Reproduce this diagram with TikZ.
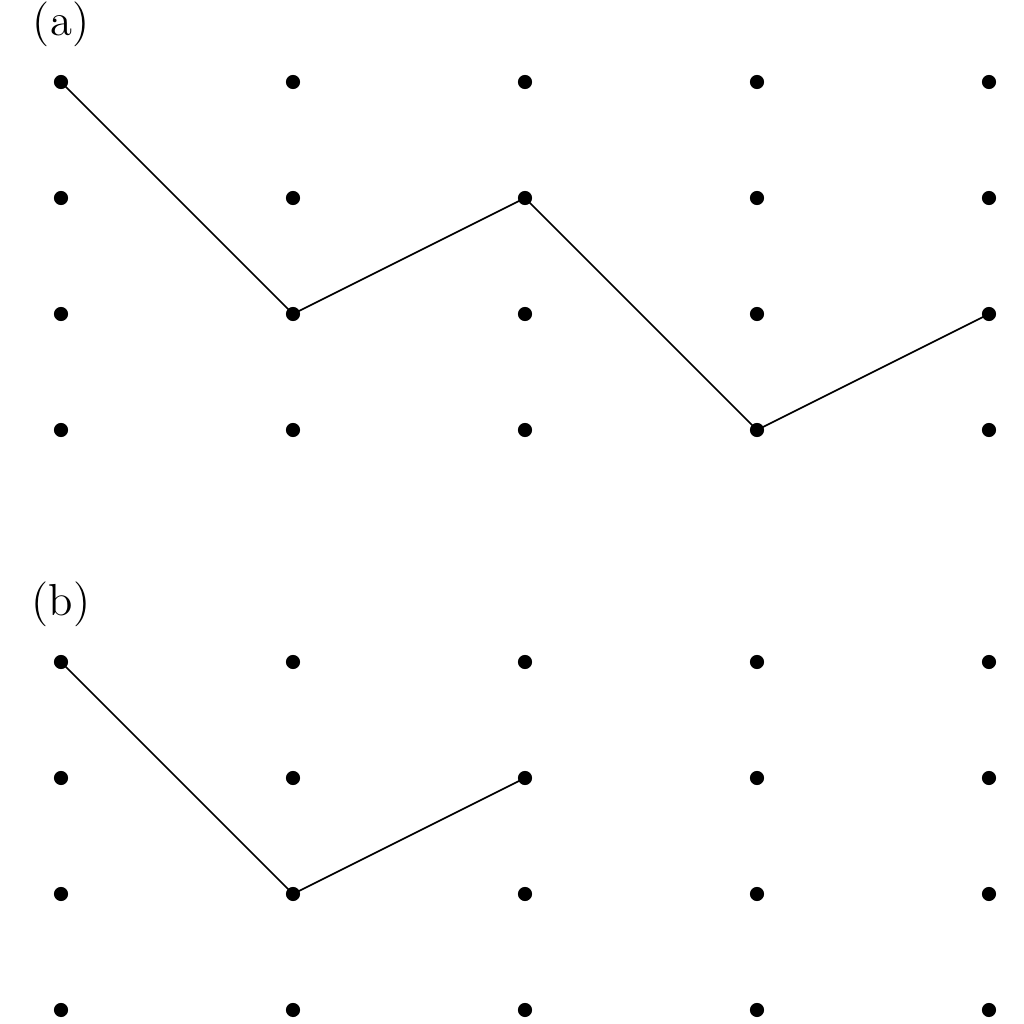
\documentclass[tikz,border=0pt]{standalone}
\usepackage{amsmath}
\usepackage{xcolor}
\usetikzlibrary{arrows.meta}

\begin{document}
\begin{tikzpicture}
				\useasboundingbox (-0.526,-8.121) rectangle (8.302,0.707);

				\begin{scope}[every node/.style={circle,fill=black,inner sep=0pt,minimum size=0.122cm}]
				    \foreach \i in {0,...,4} {
				        \foreach \j in {0,...,3} {
				            \node (a\i\j) at (2*\i,-\j) {};
				            \node (b\i\j) at (2*\i,-5-\j) {};
				        }
				    }
				\end{scope}

				\begin{scope}[every node/.style={inner sep=0pt,font=\fontsize{11}{13}\selectfont}]
				    \node (LA) at (0,0.50) {(a)};
				    \node (LB) at (0,-4.50) {(b)};
				\end{scope}

				\begin{scope}[every path/.style={draw=black,thin}]
				    \draw (a00.center) -- (a12.center) -- (a21.center) -- (a33.center) -- (a42.center);
				    \draw (b00.center) -- (b12.center) -- (b21.center);
				\end{scope}
				\end{tikzpicture}
\end{document}
